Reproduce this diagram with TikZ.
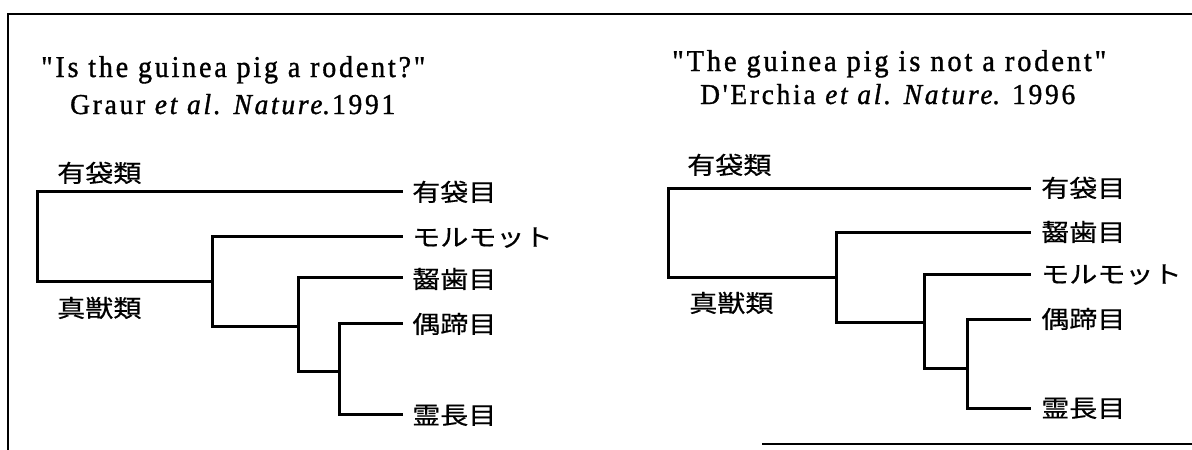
\documentclass[tikz,border=0pt]{standalone}
\usepackage{fontspec}
\setmainfont{Liberation Serif}
\newfontfamily\ttl[LetterSpace=10,FakeBold=1.2]{Liberation Serif}
\newfontfamily\jp[FakeStretch=1.17,FakeBold=0.5]{Noto Sans CJK JP}
\begin{document}
\begin{tikzpicture}[x=1pt,y=-1pt,
  frameline/.style={line width=2pt, line cap=rect},
  branch/.style={line width=3pt, line join=miter, line cap=rect},
  leaflabel/.style={inner sep=0pt, anchor=base west, font=\jp\fontsize{24}{24}\selectfont},
  grouplabel/.style={inner sep=0pt, anchor=base west, font=\jp\fontsize{24}{24}\selectfont},
  titletext/.style={inner sep=0pt, anchor=base west}]
\path[use as bounding box, fill=white] (0,0) rectangle (1192,450);

% frame
\coordinate (F1) at (8,450);
\coordinate (F2) at (8,14);
\coordinate (F3) at (1192,14);
\coordinate (F4) at (763,444);
\coordinate (F5) at (1192,444);
\draw[frameline] (F1) -- (F2) -- (F3);
\draw[frameline] (F4) -- (F5);

% ---------- left panel ----------
\node[titletext] (LT1) at (41,77) {\resizebox{384pt}{21pt}{\ttl "Is the guinea pig a rodent?"}};
\node[titletext] (LT2) at (70,114) {\resizebox{325pt}{20pt}{\ttl Graur {\itshape et al. Nature}.1991}};

\node[grouplabel] (LG1) at (57,182) {有袋類};
\node[grouplabel] (LG2) at (57,317) {真獣類};

\coordinate (LR) at (37,236);
\coordinate (Ln2) at (212,281);
\coordinate (Ln3) at (298,326);
\coordinate (Ln4) at (339,371);
\coordinate (La) at (401,191);
\coordinate (Lb) at (401,236);
\coordinate (Lc) at (401,277);
\coordinate (Ld) at (401,323);
\coordinate (Le) at (401,414);

\draw[branch] (LR) |- (La);
\draw[branch] (LR) |- (Ln2);
\draw[branch] (Ln2) |- (Lb);
\draw[branch] (Ln2) |- (Ln3);
\draw[branch] (Ln3) |- (Lc);
\draw[branch] (Ln3) |- (Ln4);
\draw[branch] (Ln4) |- (Ld);
\draw[branch] (Ln4) |- (Le);

\node[leaflabel] (LLa) at (412,201) {有袋目};
\node[leaflabel] (LLb) at (412,246) {モルモット};
\node[leaflabel] (LLc) at (412,288) {齧歯目};
\node[leaflabel] (LLd) at (412,333) {偶蹄目};
\node[leaflabel] (LLe) at (412,424) {霊長目};

% ---------- right panel ----------
\node[titletext] (RT1) at (672,71) {\resizebox{434pt}{21pt}{\ttl "The guinea pig is not a rodent"}};
\node[titletext] (RT2) at (700,104) {\resizebox{375pt}{20pt}{\ttl D'Erchia {\itshape et al. Nature}. 1996}};

\node[grouplabel] (RG1) at (687,174) {有袋類};
\node[grouplabel] (RG2) at (689,312) {真獣類};

\coordinate (RR) at (668,232.5);
\coordinate (Rn2) at (836,277);
\coordinate (Rn3) at (924,322);
\coordinate (Rn4) at (967,368);
\coordinate (Ra) at (1029,188);
\coordinate (Rb) at (1029,232);
\coordinate (Rc) at (1029,274);
\coordinate (Rd) at (1029,319);
\coordinate (Re) at (1029,408);

\draw[branch] (RR) |- (Ra);
\draw[branch] (RR) |- (Rn2);
\draw[branch] (Rn2) |- (Rb);
\draw[branch] (Rn2) |- (Rn3);
\draw[branch] (Rn3) |- (Rc);
\draw[branch] (Rn3) |- (Rn4);
\draw[branch] (Rn4) |- (Rd);
\draw[branch] (Rn4) |- (Re);

\node[leaflabel] (RLa) at (1041,197) {有袋目};
\node[leaflabel] (RLb) at (1041,241) {齧歯目};
\node[leaflabel] (RLc) at (1041,283) {モルモット};
\node[leaflabel] (RLd) at (1041,328) {偶蹄目};
\node[leaflabel] (RLe) at (1041,417) {霊長目};
\end{tikzpicture}
\end{document}
